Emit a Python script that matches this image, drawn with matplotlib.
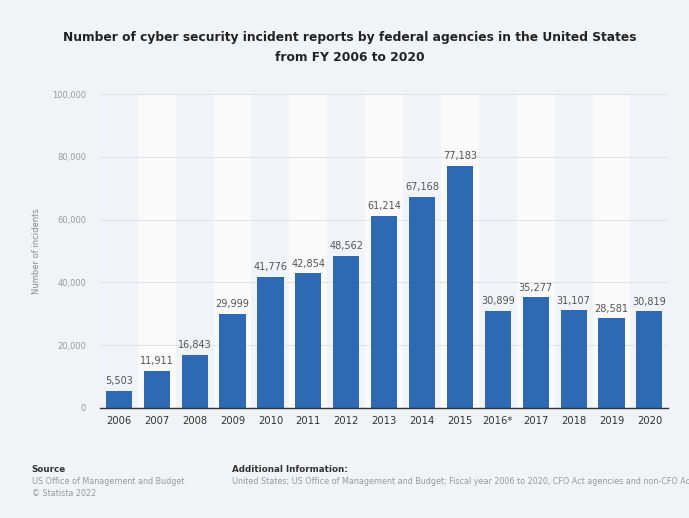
import numpy as np
from matplotlib import pyplot as plt

years = ['2006', '2007', '2008', '2009', '2010', '2011', '2012', '2013',
         '2014', '2015', '2016*', '2017', '2018', '2019', '2020']
incidents = [5503, 11911, 16843, 29999, 41776, 42854, 48562, 61214,
             67168, 77183, 30899, 35277, 31107, 28581, 30819]

bg = '#f1f4f7'
bar_color = '#2e69b3'

fig = plt.figure(figsize=(6.89, 5.18), dpi=100, facecolor=bg)
ax = fig.add_axes([0.145, 0.2124, 0.825, 0.6061])
ax.set_facecolor('#f0f4f8')

x = np.arange(len(years))
# alternating column shading
for i in x:
    if i % 2 == 1:
        ax.axvspan(i - 0.5, i + 0.5, color='#fafafa', zorder=0, lw=0)

ax.bar(x, incidents, width=0.69, color=bar_color, zorder=3)

for xi, v in zip(x, incidents):
    ax.text(xi, v + 1500, f'{v:,}', ha='center', va='bottom',
            fontsize=7, color='#555555', zorder=4)

ax.set_xlim(-0.5, len(years) - 0.5)
ax.set_ylim(0, 100000)
ax.set_yticks(np.arange(0, 100001, 20000))
ax.set_yticklabels([f'{t:,}' for t in range(0, 100001, 20000)],
                   fontsize=6, color='#999999')
ax.set_xticks(x)
ax.set_xticklabels(years, fontsize=7.2, color='#333333')
ax.tick_params(axis='both', length=0)
ax.tick_params(axis='y', pad=10)
ax.tick_params(axis='x', pad=6)
ax.grid(axis='y', color='#e2e2e2', lw=0.7, zorder=1)
for s in ['top', 'right', 'left']:
    ax.spines[s].set_visible(False)
ax.spines['bottom'].set_color('#333333')
ax.spines['bottom'].set_linewidth(1.0)
ax.spines['bottom'].set_zorder(5)
ax.set_ylabel('Number of incidents', fontsize=6, color='#888888', labelpad=8)

fig.text(0.508, 0.908, 'Number of cyber security incident reports by federal agencies in the United States\nfrom FY 2006 to 2020',
         ha='center', va='center', fontsize=8.8, fontweight='bold',
         color='#222222', linespacing=1.75)

fig.text(0.046, 0.093, 'Source', fontsize=6.3, fontweight='bold', color='#333333', va='center')
fig.text(0.046, 0.070, 'US Office of Management and Budget', fontsize=5.8, color='#999999', va='center')
fig.text(0.046, 0.048, '© Statista 2022', fontsize=5.8, color='#999999', va='center')
fig.text(0.337, 0.093, 'Additional Information:', fontsize=6.3, fontweight='bold', color='#333333', va='center')
fig.text(0.337, 0.070, 'United States; US Office of Management and Budget; Fiscal year 2006 to 2020, CFO Act agencies and non-CFO Act agencies',
         fontsize=5.8, color='#999999', va='center')

fig.savefig('out.png', dpi=100, facecolor=bg)
